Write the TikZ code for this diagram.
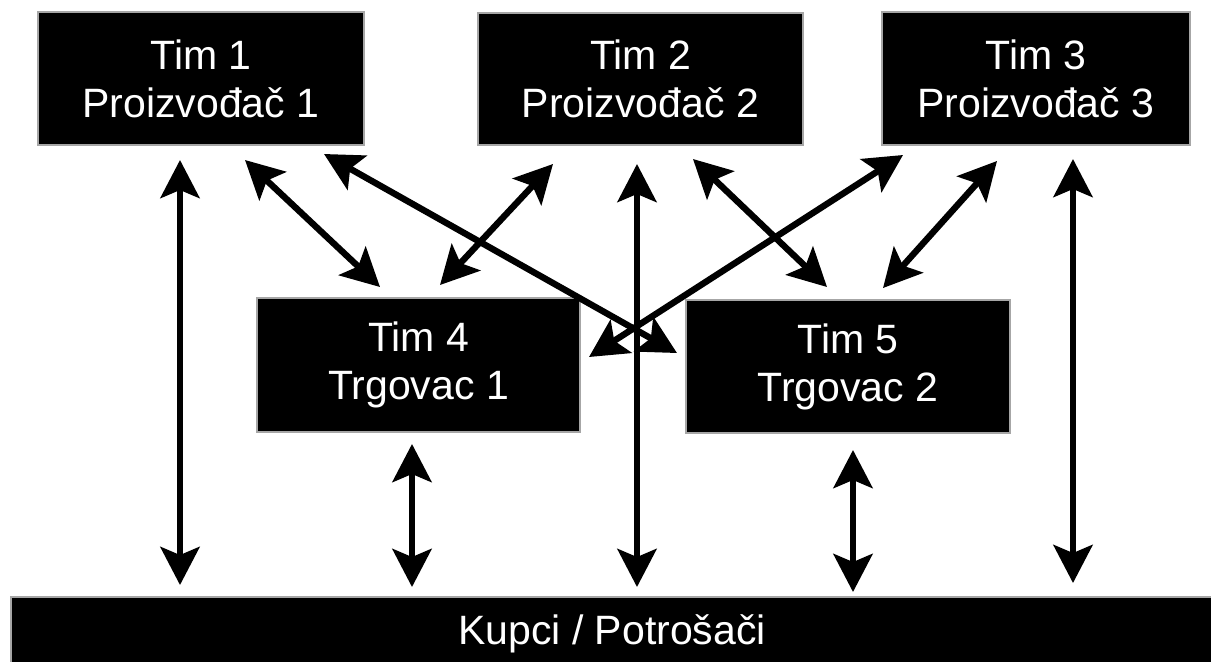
\documentclass[tikz,border=0pt]{standalone}
\usepackage{fontspec}
\setmainfont{Liberation Sans}
\usetikzlibrary{arrows.meta, positioning, calc}

\begin{document}
\begin{tikzpicture}[
    x=0.5pt, y=-0.5pt,
    font=\fontsize{20.5pt}{24pt}\selectfont,
    % Style definitions
    team/.style={draw=gray!70, line width=1pt, fill=black, text=white, align=center, inner sep=0pt},
    market/.style={draw=gray!70, line width=1pt, fill=black, text=white, inner sep=0pt, minimum width=601pt, minimum height=37pt},
    arrow/.style={{Stealth[length=19pt, width=19.5pt, inset=4pt]}-{Stealth[length=19pt, width=19.5pt, inset=4pt]}, line width=3.2pt, black},
]

\useasboundingbox (0,0) rectangle (1211,661);

%% ---------- PRODUCERS ----------
\node[team, minimum width=163pt, minimum height=66.5pt] (tim1) at (201,78.5) {Tim 1\\Proizvođač 1};
\node[team, minimum width=162.5pt, minimum height=66pt] (tim2) at (640.5,79) {Tim 2\\Proizvođač 2};
\node[team, minimum width=154pt, minimum height=66.5pt] (tim3) at (1036,78.5) {Tim 3\\Proizvođač 3};

%% ---------- TRADERS ----------
\node[team, minimum width=161.5pt, minimum height=67pt] (tim4) at (418.5,365) {Tim 4\\Trgovac 1};
\node[team, minimum width=162pt, minimum height=66.5pt] (tim5) at (848,366.5) {Tim 5\\Trgovac 2};

%% ---------- BUYERS ----------
\node[market, anchor=north west] (kupci) at (10,596) {Kupci / Potrošači};

%% ========== ARROWS ==========

% Producers to buyers
\draw[arrow] ($(tim1.south)+(-21,14)$) -- ($(kupci.north west)+(170,-11)$);
\draw[arrow] ($(tim2.south)+(-3.5,18)$) -- ($(kupci.north west)+(627,-9)$);
\draw[arrow] ($(tim3.south)+(37,13)$) -- ($(kupci.north west)+(1063,-13)$);

% Producers to traders
\draw[arrow] ($(tim1.south)+(44,14)$) -- ($(tim4.north)+(-38.5,-10)$);
\draw[arrow] ($(tim1.south)+(123,8)$) -- ($(tim5.west)+(-8,-13.5)$);
\draw[arrow] ($(tim2.south)+(-87.5,18)$) -- ($(tim4.north)+(21.5,-12)$);
\draw[arrow] ($(tim2.south)+(52.5,13)$) -- ($(tim5.north)+(-21,-12)$);
\draw[arrow] ($(tim3.south)+(-133,9)$) -- ($(tim4.east)+(8,-8)$);
\draw[arrow] ($(tim3.south)+(-39,15)$) -- ($(tim5.north)+(35,-11)$);

% Traders to buyers
\draw[arrow] ($(tim4.south)+(-6.5,11)$) -- ($(kupci.north west)+(402,-9)$);
\draw[arrow] ($(tim5.south)+(5,16)$) -- ($(kupci.north west)+(843,-4)$);

\end{tikzpicture}
\end{document}
